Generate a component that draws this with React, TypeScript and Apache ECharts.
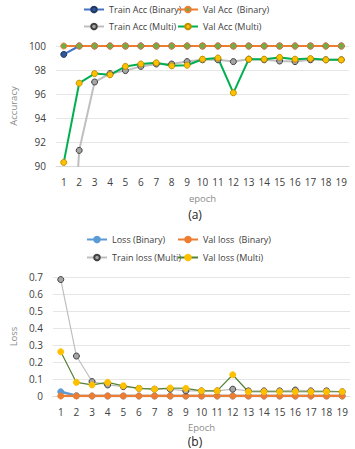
import React, { useEffect, useRef } from "react";
import * as echarts from "echarts";

const epochs = ["1","2","3","4","5","6","7","8","9","10","11","12","13","14","15","16","17","18","19"];

const trainAccBinary = [99.3, 100, 100, 100, 100, 100, 100, 100, 100, 100, 100, 100, 100, 100, 100, 100, 100, 100, 100];
const valAccBinary = [100, 100, 100, 100, 100, 100, 100, 100, 100, 100, 100, 100, 100, 100, 100, 100, 100, 100, 100];
const trainAccMulti = [70, 91.3, 97.0, 97.7, 97.95, 98.3, 98.5, 98.5, 98.7, 98.85, 98.85, 98.7, 98.9, 98.85, 98.75, 98.7, 98.85, 98.85, 98.85];
const valAccMulti = [90.3, 96.9, 97.7, 97.6, 98.3, 98.5, 98.6, 98.35, 98.4, 98.9, 99.0, 96.1, 98.9, 98.9, 99.05, 98.9, 98.95, 98.85, 98.85];

const lossBinary = [0.025, 0.002, 0, 0, 0, 0, 0, 0, 0, 0, 0, 0, 0, 0, 0, 0, 0, 0, 0];
const valLossBinary = [0, 0, 0, 0, 0, 0, 0, 0, 0, 0, 0, 0, 0, 0, 0, 0, 0, 0, 0];
const trainLossMulti = [0.685, 0.235, 0.085, 0.065, 0.055, 0.045, 0.04, 0.04, 0.03, 0.03, 0.03, 0.04, 0.03, 0.03, 0.03, 0.035, 0.03, 0.03, 0.025];
const valLossMulti = [0.26, 0.08, 0.065, 0.08, 0.06, 0.045, 0.04, 0.047, 0.045, 0.03, 0.03, 0.125, 0.025, 0.025, 0.025, 0.025, 0.025, 0.025, 0.025];

const FONT = "Open Sans";

export default function App() {
  const ref = useRef<HTMLDivElement>(null);
  useEffect(() => {
    if (!ref.current) return;
    const chart = echarts.init(ref.current, null, { renderer: "svg" });
    const legendText = { fontFamily: FONT, fontSize: 9, color: "#404040" };
    const mkLegend = (name: string, left: number, top: number) => ({
      data: [name],
      left,
      top,
      padding: 0,
      itemWidth: 20,
      itemHeight: 7,
      textStyle: legendText,
    });
    const axisLabel = { fontFamily: FONT, fontSize: 10, color: "#404040" };
    const nameStyle = { fontFamily: FONT, fontSize: 9.5, color: "#8c8c8c" };
    const xAxisBase = (gridIndex: number, name: string, gap: number) => ({
      type: "category",
      gridIndex,
      data: epochs,
      boundaryGap: true,
      name,
      nameLocation: "middle",
      nameGap: gap,
      nameTextStyle: nameStyle,
      axisTick: { show: false },
      axisLine: { show: true, lineStyle: { color: "#d9d9d9" } },
      axisLabel: { ...axisLabel, margin: 11, interval: 0 },
      splitLine: { show: false },
    });
    const lineS = (name: string, data: number[], xi: number, lineColor: string, fill: string, border: string, width: number) => ({
      type: "line",
      name,
      data,
      xAxisIndex: xi,
      yAxisIndex: xi,
      symbol: "circle",
      symbolSize: 6,
      clip: true,
      lineStyle: { color: lineColor, width },
      itemStyle: { color: fill, borderColor: border, borderWidth: 1 },
      emphasis: { disabled: true },
    });
    const titleStyle = { fontFamily: FONT, fontSize: 12, fontWeight: "normal", color: "#222" };
    chart.setOption({
      animation: false,
      backgroundColor: "#ffffff",
      title: [
        { text: "(a)", left: 195, top: 208, padding: 0, textAlign: "center", textStyle: titleStyle },
        { text: "(b)", left: 195, top: 435, padding: 0, textAlign: "center", textStyle: titleStyle },
      ],
      legend: [
        mkLegend("Train Acc (Binary)", 83, 5),
        mkLegend("Val Acc  (Binary)", 177, 5),
        mkLegend("Train Acc (Multi)", 83, 22),
        mkLegend("Val Acc (Multi)", 177, 22),
        mkLegend("Loss (Binary)", 86, 235),
        mkLegend("Val loss  (Binary)", 177, 235),
        mkLegend("Train loss (Multi)", 86, 253),
        mkLegend("Val loss (Multi)", 177, 253),
      ],
      grid: [
        { left: 41, right: 6, top: 46, bottom: 283 },
        { left: 39, right: 5, top: 277, bottom: 53 },
      ],
      xAxis: [xAxisBase(0, "epoch", 27), xAxisBase(1, "Epoch", 26)],
      yAxis: [
        {
          type: "value", gridIndex: 0, min: 90, max: 100, interval: 2,
          name: "Accuracy", nameLocation: "middle", nameGap: 30, nameTextStyle: nameStyle,
          axisLine: { show: false }, axisTick: { show: false },
          axisLabel: { ...axisLabel, margin: 10 },
          splitLine: { lineStyle: { color: "#e6e6e6" } },
        },
        {
          type: "value", gridIndex: 1, min: 0, max: 0.7, interval: 0.1,
          name: "Loss", nameLocation: "middle", nameGap: 28, nameTextStyle: nameStyle,
          axisLine: { show: false }, axisTick: { show: false },
          axisLabel: { ...axisLabel, margin: 10, formatter: (v: number) => (v === 0 ? "0" : String(Math.round(v * 10) / 10)) },
          splitLine: { lineStyle: { color: "#e6e6e6" } },
        },
      ],
      series: [
        lineS("Train Acc (Binary)", trainAccBinary, 0, "#4472C4", "#2F5597", "#1F3864", 2),
        lineS("Val Acc  (Binary)", valAccBinary, 0, "#ED7D31", "#70AD47", "#ED7D31", 2),
        lineS("Train Acc (Multi)", trainAccMulti, 0, "#BFBFBF", "#A5A5A5", "#404040", 2),
        lineS("Val Acc (Multi)", valAccMulti, 0, "#00B050", "#FFC000", "#BF9000", 2),
        lineS("Loss (Binary)", lossBinary, 1, "#5B9BD5", "#5B9BD5", "#5B9BD5", 2.5),
        lineS("Val loss  (Binary)", valLossBinary, 1, "#ED7D31", "#ED7D31", "#ED7D31", 2.5),
        lineS("Train loss (Multi)", trainLossMulti, 1, "#BFBFBF", "#A5A5A5", "#404040", 1.2),
        lineS("Val loss (Multi)", valLossMulti, 1, "#548235", "#FFC000", "#FFC000", 1.2),
      ],
    });
    return () => chart.dispose();
  }, []);
  return <div ref={ref} style={{ width: 355, height: 449, position: "absolute", left: 0, top: 0 }} />;
}
